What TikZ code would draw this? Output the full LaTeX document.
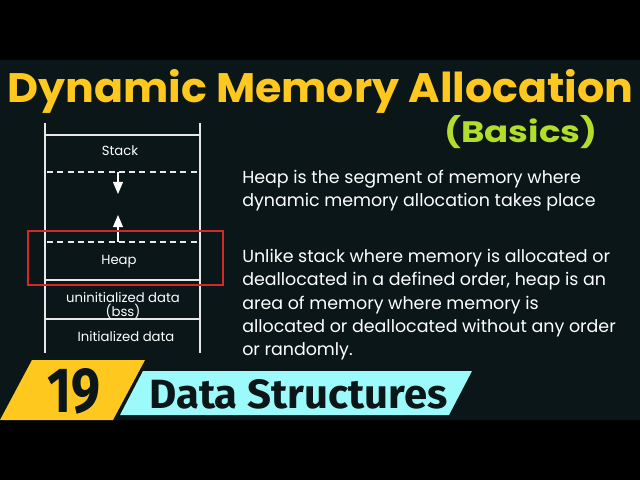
\documentclass[tikz,border=0pt]{standalone}
\usepackage{fontspec}
\setmainfont{Poppins}
\newfontfamily\bannerfont{Fira Sans}
\usetikzlibrary{arrows}
\definecolor{bgdark}{HTML}{0A1618}
\definecolor{titleyellow}{HTML}{FFC81E}
\definecolor{basicsgreen}{HTML}{B2DD2C}
\definecolor{bannercyan}{HTML}{9CFAFA}
\definecolor{bannerink}{HTML}{0A1618}
\definecolor{heapred}{HTML}{D02A2A}
\definecolor{linegray}{HTML}{E8E8E8}

\begin{document}
\begin{tikzpicture}[x=0.025cm, y=-0.025cm, >=triangle 45, inner sep=0pt,
  wall/.style={linegray, line width=1.1pt},
  gap/.style={linegray, line width=1pt, dash pattern=on 4.3pt off 3pt},
  seglabel/.style={anchor=base, text=white, font=\fontsize{9.4pt}{10pt}\selectfont},
  para/.style={anchor=north west, align=left, text=white, font=\fontsize{12.4pt}{16.6pt}\selectfont}]
%
\useasboundingbox (0,0) rectangle (640,480);
\fill[black] (0,0) rectangle (640,480);
\fill[bgdark] (0,60) rectangle (640,420);
%
\node (title) [anchor=base west, text=titleyellow] at (7,103) {\resizebox{15.65cm}{0.825cm}{\bfseries Dynamic Memory Allocation}};
\node (basics) [anchor=base west, text=basicsgreen] at (444,142) {\resizebox{3.825cm}{0.675cm}{\bfseries (Basics)}};
%
% memory layout
\draw[wall] (45,123) -- (45,353);
\draw[wall] (200,123) -- (200,353);
\draw[wall] (45,135) -- (200,135);
\draw[gap] (47,172) -- (198,172);
\draw[gap] (47,242) -- (198,242);
\draw[wall] (45,280) -- (200,280);
\draw[wall] (45,319) -- (200,319);
%
\node (stack) [seglabel] at (120,155) {Stack};
\node (heap) [seglabel] at (119,264) {Heap};
\node (bss) [seglabel] at (123,302) {uninitialized data};
\node (bssname) [seglabel] at (123,316) {(bss)};
\node (data) [seglabel] at (126,341) {Initialized data};
%
\coordinate (stacktop) at (118,172);
\coordinate (stackgrow) at (118,194);
\coordinate (heaptop) at (118,242);
\coordinate (heapgrow) at (118,215);
\draw[->, white, line width=1pt] (stacktop) -- (stackgrow);
\draw[->, white, line width=1pt] (heaptop) -- (heapgrow);
%
\draw[heapred, line width=1.1pt] (28,231) rectangle (223,285);
%
\node (intro) [para] at (242,170) {Heap is the segment of memory where\\dynamic memory allocation takes place};
\node (detail) [para] at (242,249) {Unlike stack where memory is allocated or\\deallocated in a defined order, heap is an\\area of memory where memory is\\allocated or deallocated without any order\\or randomly.};
%
% banner
\fill[titleyellow] (32,360) -- (145,360) -- (113,420) -- (0,420) -- cycle;
\fill[bannercyan] (143,371) -- (472,371) -- (449,415) -- (120,415) -- cycle;
\node (num) [anchor=base west, text=bannerink] at (47,412) {\resizebox{1.325cm}{1.1cm}{\bannerfont\bfseries 19}};
\node (topic) [anchor=base west, text=bannerink] at (149,408) {\resizebox{7.45cm}{0.725cm}{\bannerfont\bfseries Data Structures}};
\end{tikzpicture}
\end{document}
